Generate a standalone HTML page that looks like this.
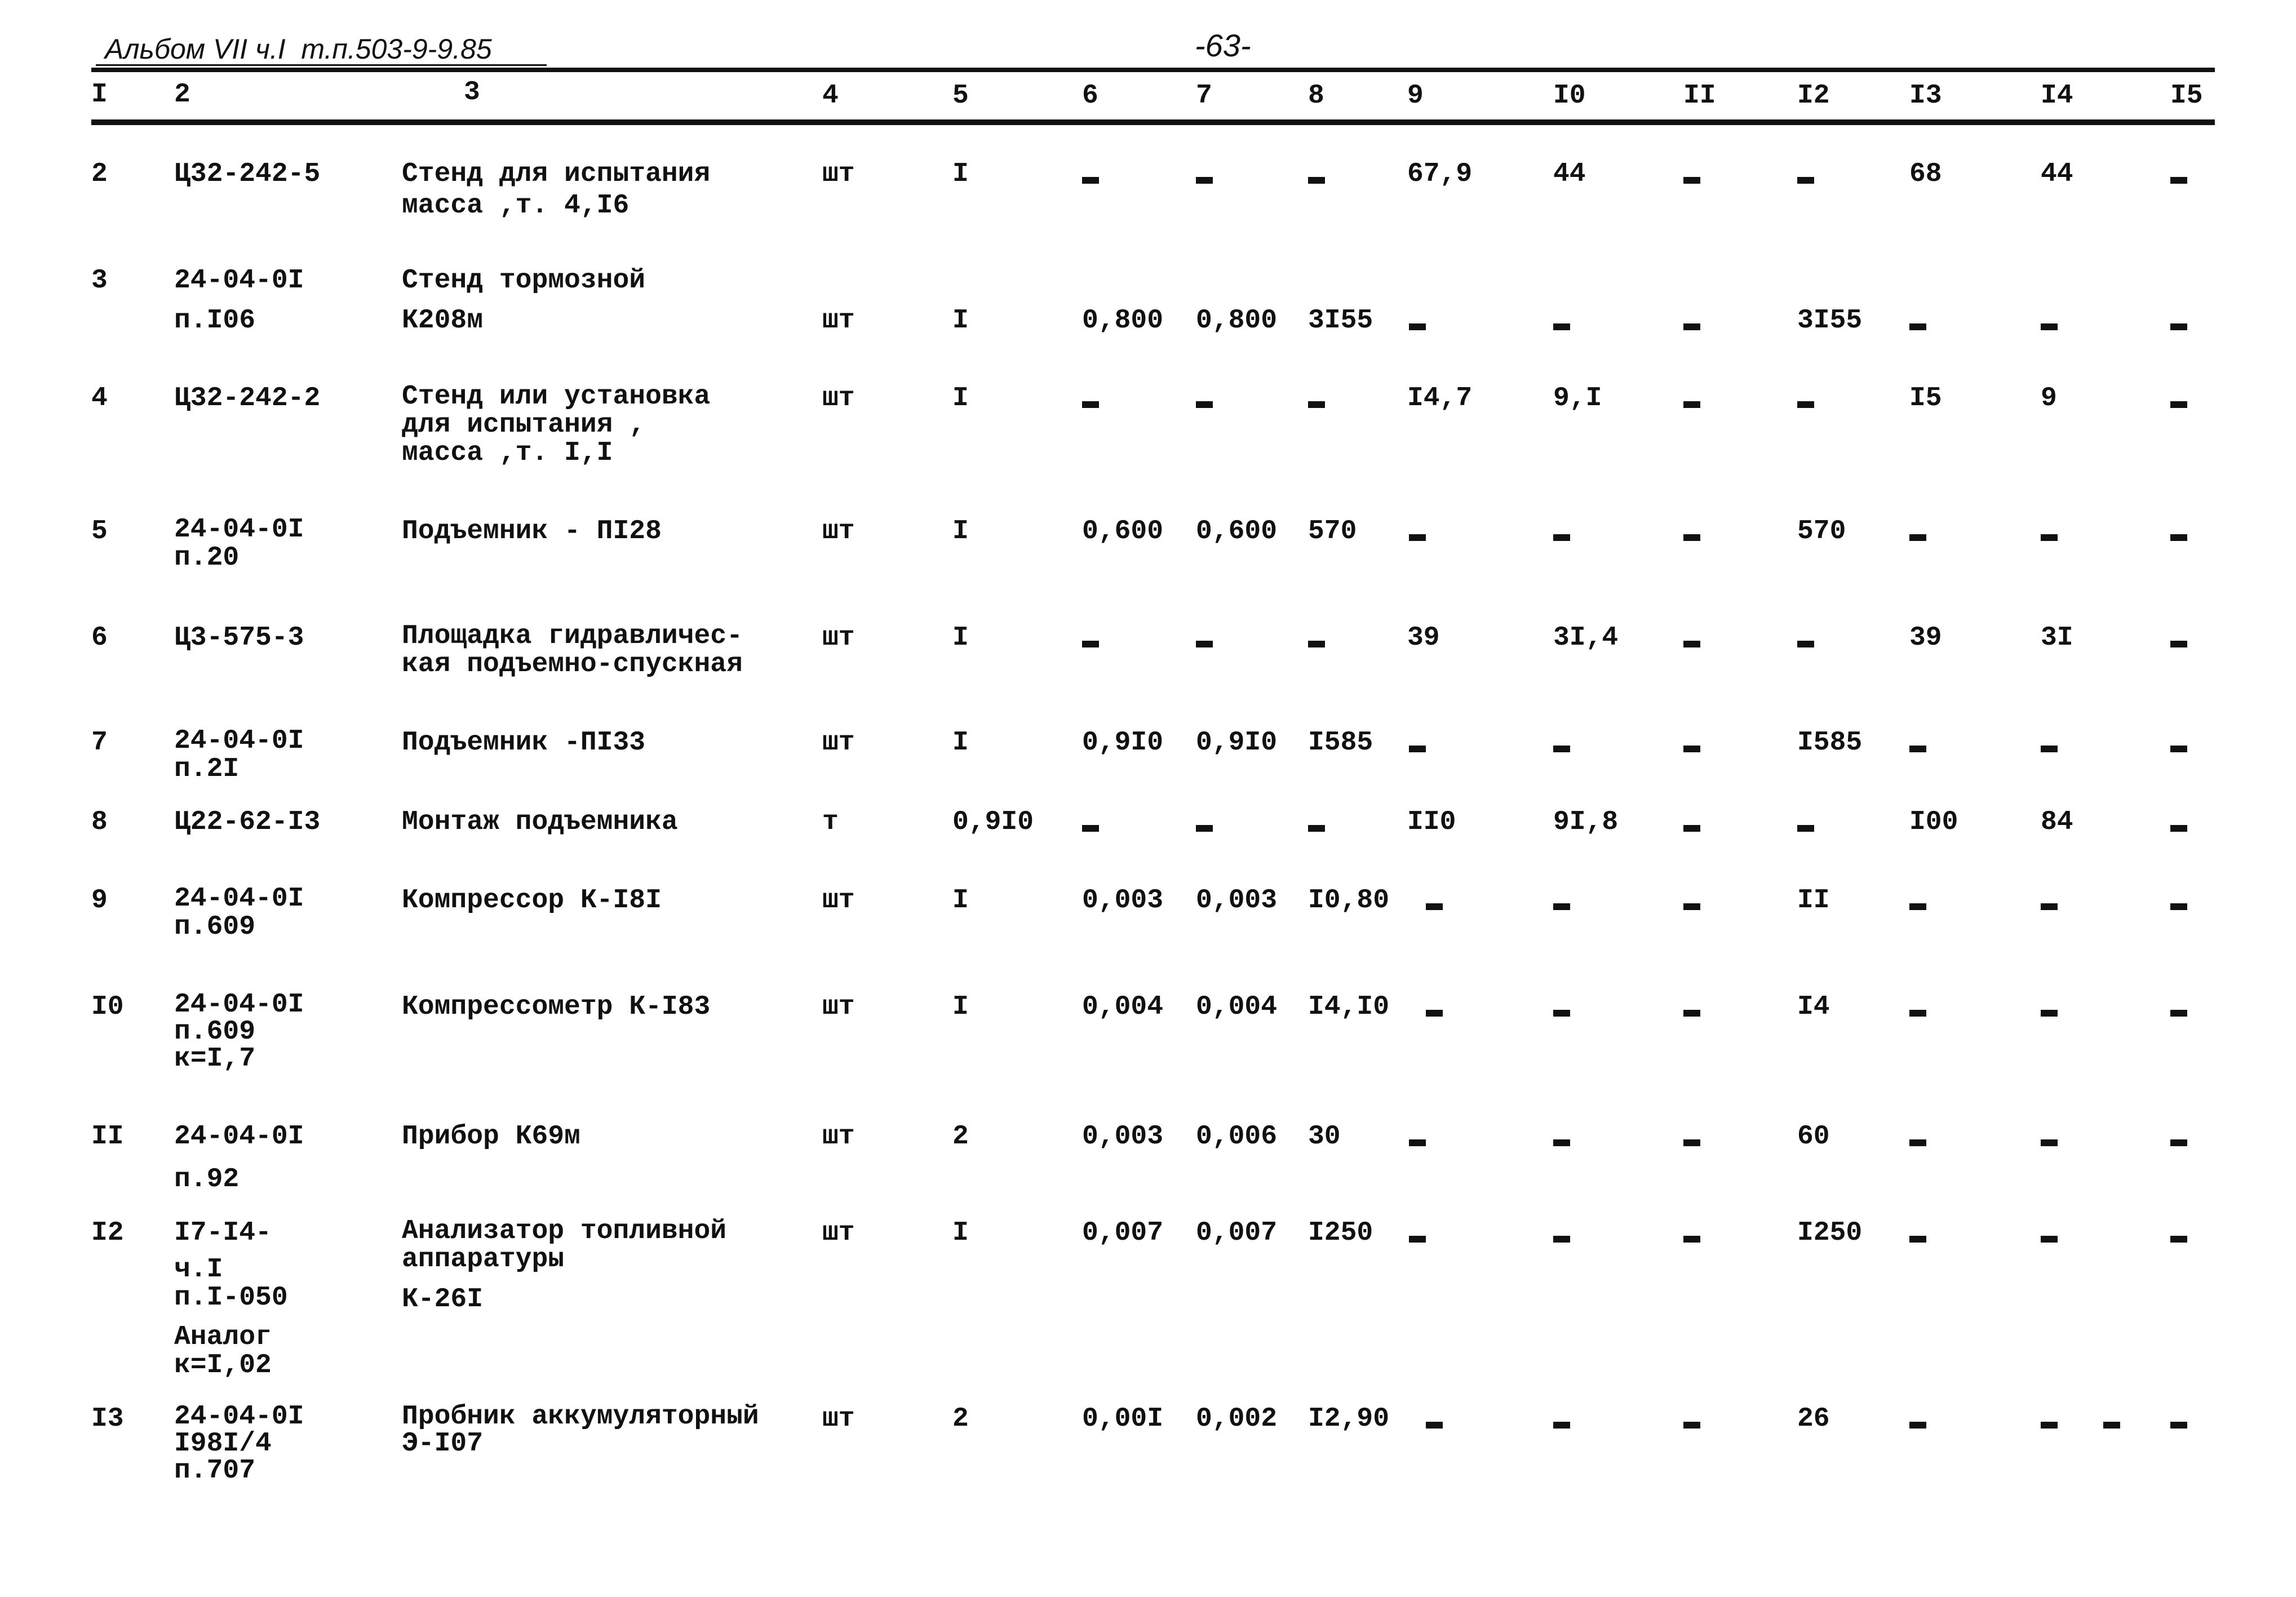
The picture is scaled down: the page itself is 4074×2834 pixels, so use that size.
<!DOCTYPE html>
<html><head><meta charset="utf-8"><style>
html,body{margin:0;padding:0;background:#fff;}
body{width:4074px;height:2834px;position:relative;overflow:hidden;}
.t{position:absolute;font-family:"Liberation Mono","DejaVu Sans Mono",monospace;font-weight:bold;font-size:48px;line-height:56px;white-space:pre;color:#111;}
.d{position:absolute;width:30px;height:12px;background:#111;}
.h{position:absolute;left:162px;width:3768px;background:#111;}
.ti{position:absolute;font-family:"Liberation Sans",sans-serif;font-style:italic;font-size:50px;line-height:54px;color:#111;white-space:pre;}
</style></head><body>
<div class="ti" style="left:186px;top:60px;">Альбом VII ч.I  т.п.503-9-9.85</div>
<div style="position:absolute;left:170px;top:114px;width:800px;height:3px;background:#111"></div>
<div class="ti" style="left:2120px;top:54px;font-size:56px;">-63-</div>
<div class="h" style="top:120px;height:8px;"></div>
<div class="h" style="top:212px;height:10px;"></div>

<div class="t" style="left:162px;top:140px">I</div>
<div class="t" style="left:309px;top:140px">2</div>
<div class="t" style="left:823px;top:136px">3</div>
<div class="t" style="left:1459px;top:142px">4</div>
<div class="t" style="left:1690px;top:142px">5</div>
<div class="t" style="left:1920px;top:142px">6</div>
<div class="t" style="left:2122px;top:142px">7</div>
<div class="t" style="left:2321px;top:142px">8</div>
<div class="t" style="left:2497px;top:142px">9</div>
<div class="t" style="left:2756px;top:142px">I0</div>
<div class="t" style="left:2987px;top:142px">II</div>
<div class="t" style="left:3189px;top:142px">I2</div>
<div class="t" style="left:3388px;top:142px">I3</div>
<div class="t" style="left:3621px;top:142px">I4</div>
<div class="t" style="left:3851px;top:142px">I5</div>

<div class="t" style="left:162px;top:281px">2</div>
<div class="t" style="left:309px;top:281px">Ц32-242-5</div>
<div class="t" style="left:713px;top:281px">Стенд для испытания
масса ,т. 4,I6</div>
<div class="t" style="left:1459px;top:281px">шт</div>
<div class="t" style="left:1690px;top:281px">I</div>
<div class="d" style="left:1920px;top:314px"></div>
<div class="d" style="left:2122px;top:314px"></div>
<div class="d" style="left:2321px;top:314px"></div>
<div class="t" style="left:2497px;top:281px">67,9</div>
<div class="t" style="left:2756px;top:281px">44</div>
<div class="d" style="left:2987px;top:314px"></div>
<div class="d" style="left:3189px;top:314px"></div>
<div class="t" style="left:3388px;top:281px">68</div>
<div class="t" style="left:3621px;top:281px">44</div>
<div class="d" style="left:3851px;top:314px"></div>

<div class="t" style="left:162px;top:470px">3</div>
<div class="t" style="left:309px;top:470px">24-04-0I</div>
<div class="t" style="left:713px;top:470px">Стенд тормозной</div>
<div class="t" style="left:309px;top:541px">п.I06</div>
<div class="t" style="left:713px;top:541px">К208м</div>
<div class="t" style="left:1459px;top:541px">шт</div>
<div class="t" style="left:1690px;top:541px">I</div>
<div class="t" style="left:1920px;top:541px">0,800</div>
<div class="t" style="left:2122px;top:541px">0,800</div>
<div class="t" style="left:2321px;top:541px">3I55</div>
<div class="d" style="left:2500px;top:574px"></div>
<div class="d" style="left:2756px;top:574px"></div>
<div class="d" style="left:2987px;top:574px"></div>
<div class="t" style="left:3189px;top:541px">3I55</div>
<div class="d" style="left:3388px;top:574px"></div>
<div class="d" style="left:3621px;top:574px"></div>
<div class="d" style="left:3851px;top:574px"></div>

<div class="t" style="left:162px;top:679px">4</div>
<div class="t" style="left:309px;top:679px">Ц32-242-2</div>
<div class="t" style="left:713px;top:679px;line-height:50px">Стенд или установка
для испытания ,
масса ,т. I,I</div>
<div class="t" style="left:1459px;top:679px">шт</div>
<div class="t" style="left:1690px;top:679px">I</div>
<div class="d" style="left:1920px;top:712px"></div>
<div class="d" style="left:2122px;top:712px"></div>
<div class="d" style="left:2321px;top:712px"></div>
<div class="t" style="left:2497px;top:679px">I4,7</div>
<div class="t" style="left:2756px;top:679px">9,I</div>
<div class="d" style="left:2987px;top:712px"></div>
<div class="d" style="left:3189px;top:712px"></div>
<div class="t" style="left:3388px;top:679px">I5</div>
<div class="t" style="left:3621px;top:679px">9</div>
<div class="d" style="left:3851px;top:712px"></div>

<div class="t" style="left:162px;top:915px">5</div>
<div class="t" style="left:309px;top:915px;line-height:50px">24-04-0I
п.20</div>
<div class="t" style="left:713px;top:915px">Подъемник - ПI28</div>
<div class="t" style="left:1459px;top:915px">шт</div>
<div class="t" style="left:1690px;top:915px">I</div>
<div class="t" style="left:1920px;top:915px">0,600</div>
<div class="t" style="left:2122px;top:915px">0,600</div>
<div class="t" style="left:2321px;top:915px">570</div>
<div class="d" style="left:2500px;top:948px"></div>
<div class="d" style="left:2756px;top:948px"></div>
<div class="d" style="left:2987px;top:948px"></div>
<div class="t" style="left:3189px;top:915px">570</div>
<div class="d" style="left:3388px;top:948px"></div>
<div class="d" style="left:3621px;top:948px"></div>
<div class="d" style="left:3851px;top:948px"></div>

<div class="t" style="left:162px;top:1104px">6</div>
<div class="t" style="left:309px;top:1104px">Ц3-575-3</div>
<div class="t" style="left:713px;top:1104px;line-height:50px">Площадка гидравличес-
кая подъемно-спускная</div>
<div class="t" style="left:1459px;top:1104px">шт</div>
<div class="t" style="left:1690px;top:1104px">I</div>
<div class="d" style="left:1920px;top:1137px"></div>
<div class="d" style="left:2122px;top:1137px"></div>
<div class="d" style="left:2321px;top:1137px"></div>
<div class="t" style="left:2497px;top:1104px">39</div>
<div class="t" style="left:2756px;top:1104px">3I,4</div>
<div class="d" style="left:2987px;top:1137px"></div>
<div class="d" style="left:3189px;top:1137px"></div>
<div class="t" style="left:3388px;top:1104px">39</div>
<div class="t" style="left:3621px;top:1104px">3I</div>
<div class="d" style="left:3851px;top:1137px"></div>

<div class="t" style="left:162px;top:1290px">7</div>
<div class="t" style="left:309px;top:1290px;line-height:50px">24-04-0I
п.2I</div>
<div class="t" style="left:713px;top:1290px">Подъемник -ПI33</div>
<div class="t" style="left:1459px;top:1290px">шт</div>
<div class="t" style="left:1690px;top:1290px">I</div>
<div class="t" style="left:1920px;top:1290px">0,9I0</div>
<div class="t" style="left:2122px;top:1290px">0,9I0</div>
<div class="t" style="left:2321px;top:1290px">I585</div>
<div class="d" style="left:2500px;top:1323px"></div>
<div class="d" style="left:2756px;top:1323px"></div>
<div class="d" style="left:2987px;top:1323px"></div>
<div class="t" style="left:3189px;top:1290px">I585</div>
<div class="d" style="left:3388px;top:1323px"></div>
<div class="d" style="left:3621px;top:1323px"></div>
<div class="d" style="left:3851px;top:1323px"></div>

<div class="t" style="left:162px;top:1431px">8</div>
<div class="t" style="left:309px;top:1431px">Ц22-62-I3</div>
<div class="t" style="left:713px;top:1431px">Монтаж подъемника</div>
<div class="t" style="left:1459px;top:1431px">т</div>
<div class="t" style="left:1690px;top:1431px">0,9I0</div>
<div class="d" style="left:1920px;top:1464px"></div>
<div class="d" style="left:2122px;top:1464px"></div>
<div class="d" style="left:2321px;top:1464px"></div>
<div class="t" style="left:2497px;top:1431px">II0</div>
<div class="t" style="left:2756px;top:1431px">9I,8</div>
<div class="d" style="left:2987px;top:1464px"></div>
<div class="d" style="left:3189px;top:1464px"></div>
<div class="t" style="left:3388px;top:1431px">I00</div>
<div class="t" style="left:3621px;top:1431px">84</div>
<div class="d" style="left:3851px;top:1464px"></div>

<div class="t" style="left:162px;top:1570px">9</div>
<div class="t" style="left:309px;top:1570px;line-height:50px">24-04-0I
п.609</div>
<div class="t" style="left:713px;top:1570px">Компрессор К-I8I</div>
<div class="t" style="left:1459px;top:1570px">шт</div>
<div class="t" style="left:1690px;top:1570px">I</div>
<div class="t" style="left:1920px;top:1570px">0,003</div>
<div class="t" style="left:2122px;top:1570px">0,003</div>
<div class="t" style="left:2321px;top:1570px">I0,80</div>
<div class="d" style="left:2530px;top:1603px"></div>
<div class="d" style="left:2756px;top:1603px"></div>
<div class="d" style="left:2987px;top:1603px"></div>
<div class="t" style="left:3189px;top:1570px">II</div>
<div class="d" style="left:3388px;top:1603px"></div>
<div class="d" style="left:3621px;top:1603px"></div>
<div class="d" style="left:3851px;top:1603px"></div>

<div class="t" style="left:162px;top:1759px">I0</div>
<div class="t" style="left:309px;top:1759px;line-height:48px">24-04-0I
п.609
к=I,7</div>
<div class="t" style="left:713px;top:1759px">Компрессометр К-I83</div>
<div class="t" style="left:1459px;top:1759px">шт</div>
<div class="t" style="left:1690px;top:1759px">I</div>
<div class="t" style="left:1920px;top:1759px">0,004</div>
<div class="t" style="left:2122px;top:1759px">0,004</div>
<div class="t" style="left:2321px;top:1759px">I4,I0</div>
<div class="d" style="left:2530px;top:1792px"></div>
<div class="d" style="left:2756px;top:1792px"></div>
<div class="d" style="left:2987px;top:1792px"></div>
<div class="t" style="left:3189px;top:1759px">I4</div>
<div class="d" style="left:3388px;top:1792px"></div>
<div class="d" style="left:3621px;top:1792px"></div>
<div class="d" style="left:3851px;top:1792px"></div>

<div class="t" style="left:162px;top:1989px">II</div>
<div class="t" style="left:309px;top:1989px">24-04-0I</div>
<div class="t" style="left:309px;top:2065px">п.92</div>
<div class="t" style="left:713px;top:1989px">Прибор К69м</div>
<div class="t" style="left:1459px;top:1989px">шт</div>
<div class="t" style="left:1690px;top:1989px">2</div>
<div class="t" style="left:1920px;top:1989px">0,003</div>
<div class="t" style="left:2122px;top:1989px">0,006</div>
<div class="t" style="left:2321px;top:1989px">30</div>
<div class="d" style="left:2500px;top:2022px"></div>
<div class="d" style="left:2756px;top:2022px"></div>
<div class="d" style="left:2987px;top:2022px"></div>
<div class="t" style="left:3189px;top:1989px">60</div>
<div class="d" style="left:3388px;top:2022px"></div>
<div class="d" style="left:3621px;top:2022px"></div>
<div class="d" style="left:3851px;top:2022px"></div>

<div class="t" style="left:162px;top:2160px">I2</div>
<div class="t" style="left:309px;top:2160px">I7-I4-</div>
<div class="t" style="left:309px;top:2228px;line-height:50px">ч.I
п.I-050</div>
<div class="t" style="left:309px;top:2348px;line-height:50px">Аналог
к=I,02</div>
<div class="t" style="left:713px;top:2160px;line-height:50px">Анализатор топливной
аппаратуры</div>
<div class="t" style="left:713px;top:2278px">К-26I</div>
<div class="t" style="left:1459px;top:2160px">шт</div>
<div class="t" style="left:1690px;top:2160px">I</div>
<div class="t" style="left:1920px;top:2160px">0,007</div>
<div class="t" style="left:2122px;top:2160px">0,007</div>
<div class="t" style="left:2321px;top:2160px">I250</div>
<div class="d" style="left:2500px;top:2193px"></div>
<div class="d" style="left:2756px;top:2193px"></div>
<div class="d" style="left:2987px;top:2193px"></div>
<div class="t" style="left:3189px;top:2160px">I250</div>
<div class="d" style="left:3388px;top:2193px"></div>
<div class="d" style="left:3621px;top:2193px"></div>
<div class="d" style="left:3851px;top:2193px"></div>

<div class="t" style="left:162px;top:2490px">I3</div>
<div class="t" style="left:309px;top:2490px;line-height:48px">24-04-0I
I98I/4
п.707</div>
<div class="t" style="left:713px;top:2490px;line-height:48px">Пробник аккумуляторный
Э-I07</div>
<div class="t" style="left:1459px;top:2490px">шт</div>
<div class="t" style="left:1690px;top:2490px">2</div>
<div class="t" style="left:1920px;top:2490px">0,00I</div>
<div class="t" style="left:2122px;top:2490px">0,002</div>
<div class="t" style="left:2321px;top:2490px">I2,90</div>
<div class="d" style="left:2530px;top:2523px"></div>
<div class="d" style="left:2756px;top:2523px"></div>
<div class="d" style="left:2987px;top:2523px"></div>
<div class="t" style="left:3189px;top:2490px">26</div>
<div class="d" style="left:3388px;top:2523px"></div>
<div class="d" style="left:3621px;top:2523px"></div>
<div class="d" style="left:3732px;top:2523px"></div>
<div class="d" style="left:3851px;top:2523px"></div>
</body></html>
